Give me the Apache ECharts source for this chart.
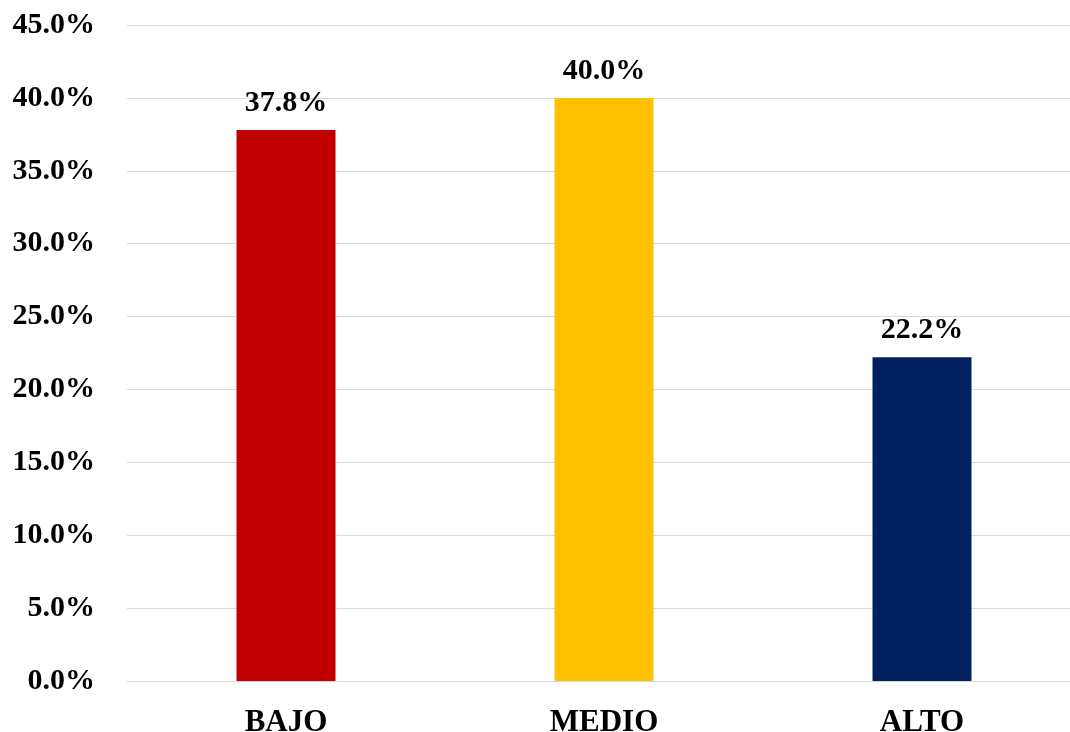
<!DOCTYPE html>
<html><head><meta charset="utf-8">
<script src="https://cdn.jsdelivr.net/npm/echarts@6/dist/echarts.min.js"></script>
<style>html,body{margin:0;padding:0;background:#fff;overflow:hidden}#c{width:1070px;height:732px}</style>
</head><body><div id="c"></div>
<script>
const categories = ['BAJO', 'MEDIO', 'ALTO'];
const values = [37.8, 40.0, 22.2];
const colors = ['#C00000', '#FFC000', '#002060'];
const yMin = 0, yMax = 45, yStep = 5;

const font = '"Liberation Serif", "Times New Roman", serif';
const chart = echarts.init(document.getElementById('c'));
chart.setOption({
  animation: false,
  backgroundColor: '#fff',
  grid: { left: 127, right: -11, top: 25, bottom: 51, containLabel: false, outerBoundsMode: 'none' },
  xAxis: {
    type: 'category', data: categories,
    axisLine: { show: true, lineStyle: { color: '#d9d9d9', width: 1 } },
    axisTick: { show: false },
    axisLabel: { margin: 26, color: '#000', fontFamily: font, fontWeight: 'bold', fontSize: 31 }
  },
  yAxis: {
    type: 'value', min: yMin, max: yMax, interval: yStep,
    axisLine: { show: false }, axisTick: { show: false },
    splitLine: { lineStyle: { color: '#d9d9d9', width: 1 } },
    axisLabel: { margin: 32, color: '#000', fontFamily: font, fontWeight: 'bold', fontSize: 30,
      formatter: v => v.toFixed(1) + '%' }
  },
  series: [{
    type: 'bar', barWidth: 99,
    data: values.map((v, i) => ({ value: v, itemStyle: { color: colors[i] } })),
    label: { show: true, position: 'top', distance: 12, color: '#000', fontFamily: font,
      fontWeight: 'bold', fontSize: 30, formatter: p => p.value.toFixed(1) + '%' }
  }]
});
</script></body></html>
